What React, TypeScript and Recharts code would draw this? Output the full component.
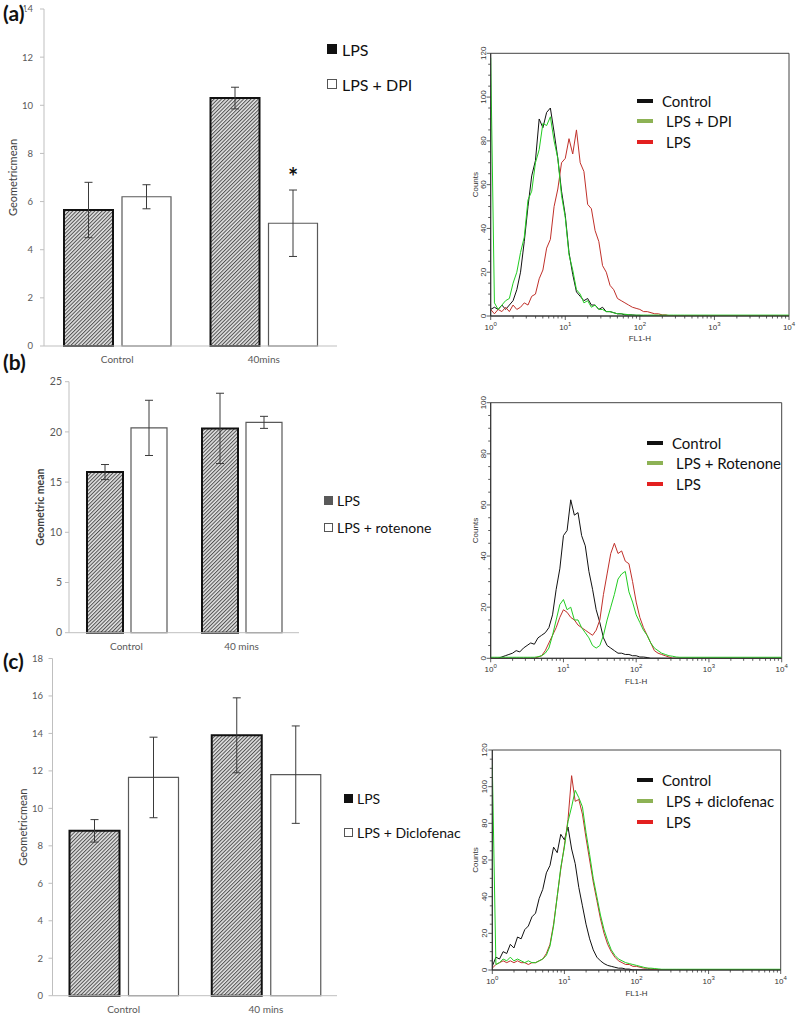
import React from 'react';
import { BarChart, Bar, XAxis, YAxis, ErrorBar, LabelList, LineChart, Line, ReferenceArea } from 'recharts';

const FONT = 'Lato, "Open Sans", sans-serif';
const HFONT = '"Liberation Sans", Arial, sans-serif';

// ---------- Bar chart data ----------
const catsA = ['Control', '40mins'];
const lpsA = [5.65, 10.3];
const lpsErrA = [1.15, 0.45];
const dpiA = [6.2, 5.1];
const dpiErrA = [0.5, 1.38];
const marksA = ['', '*'];
const yTicksA = [0, 2, 4, 6, 8, 10, 12, 14];

const catsB = ['Control', '40 mins'];
const lpsB = [16.0, 20.35];
const lpsErrB = [0.75, 3.5];
const rotB = [20.4, 20.95];
const rotErrB = [2.75, 0.6];
const yTicksB = [0, 5, 10, 15, 20, 25];

const catsC = ['Control', '40 mins'];
const lpsC = [8.8, 13.9];
const lpsErrC = [0.6, 2.0];
const dicC = [11.65, 11.8];
const dicErrC = [2.15, 2.6];
const yTicksC = [0, 2, 4, 6, 8, 10, 12, 14, 16, 18];

// ---------- Histogram data (log10 of FL1-H channel, counts) ----------
const histLogX = [0, 0.05, 0.1, 0.15, 0.2, 0.25, 0.3, 0.35, 0.4, 0.45, 0.5, 0.55, 0.6, 0.65, 0.7, 0.75, 0.8, 0.85, 0.9, 0.95, 1, 1.05, 1.1, 1.15, 1.2, 1.25, 1.3, 1.35, 1.4, 1.45, 1.5, 1.55, 1.6, 1.65, 1.7, 1.75, 1.8, 1.85, 1.9, 1.95, 2, 2.05, 2.1, 2.15, 2.2, 2.25, 2.3, 2.35, 2.4, 2.45, 2.5, 2.55, 2.6, 4];

const ctrlHistA = [3, 4, 3, 5, 3, 5, 7, 12, 20, 34, 50, 64, 71, 90, 86, 93, 95, 84, 72, 57, 46, 29, 19, 11, 9, 7, 8, 5, 5, 3, 4, 2, 2, 1.5, 1, 1, 0.5, 0.5, 0.5, 0.3, 0.3, 0, 0, 0, 0, 0, 0, 0, 0, 0, 0, 0, 0, 0];
const dpiHistA = [118, 6, 3, 5, 7, 8, 15, 20, 29, 36, 53, 57, 70, 76, 88, 87, 91, 80, 72, 55, 45, 28, 21, 12, 10, 6, 7, 4, 5, 3, 3, 2, 2, 1.5, 1, 1, 0.8, 0.6, 0.4, 0.4, 0.4, 0.4, 0.4, 0.4, 0.4, 0.4, 0.4, 0.4, 0.4, 0.4, 0.4, 0.4, 0.4, 0.4];
const lpsHistA = [3, 1, 3, 2, 4, 2, 5, 3, 4, 6, 5, 9, 10, 17, 21, 31, 35, 50, 58, 70, 72, 81, 74, 85, 70, 66, 51, 49, 39, 34, 23, 20, 14, 12, 8, 7, 6, 5, 4, 3.5, 3, 2, 2, 1.5, 1, 1, 0.5, 0.5, 0, 0, 0, 0, 0, 0];

const ctrlHistB = [0, 0, 0, 0.5, 1, 1.5, 2, 3, 2.5, 4, 5, 6, 5.5, 8, 9, 10, 12, 17, 27, 35, 48, 50, 62, 56, 57, 48, 44, 34, 27, 19, 14, 8, 5, 4, 3, 2, 2, 1.5, 1.5, 1, 1, 0.5, 0.5, 0.3, 0, 0, 0, 0, 0, 0, 0, 0, 0, 0];
const rotHistB = [0.4, 0.4, 0.4, 0.4, 0.4, 0.4, 0.4, 0.4, 0.4, 0.4, 0.4, 0.4, 0.4, 0.6, 1, 2, 4, 9, 15, 21, 23, 19, 20, 15, 15, 12, 10, 8, 5, 4, 5, 9, 15, 20, 25, 31, 33, 34, 26, 22, 17, 14, 11, 9, 6, 4, 3, 2, 1.5, 1, 0.8, 0.5, 0.4, 0.4];
const lpsHistB = [0, 0, 0, 0, 0, 0, 0, 0, 0, 0, 0, 0, 0, 0.5, 1, 3, 6, 9, 12, 16, 19, 18, 16, 15, 13, 12, 11, 10, 9, 11, 15, 25, 33, 41, 45, 41, 42, 38, 37, 30, 22, 16, 12, 9, 6, 3, 2, 1.5, 1, 0.5, 0, 0, 0, 0];

const ctrlHistC = [2, 7, 6, 10, 9, 14, 12, 18, 17, 22, 24, 29, 31, 39, 44, 53, 57, 67, 64, 74, 71, 78, 66, 58, 45, 35, 25, 17, 11, 7, 5, 3.5, 2.5, 2, 1.5, 1, 1, 0.5, 0.5, 0, 0, 0, 0, 0, 0, 0, 0, 0, 0, 0, 0, 0, 0, 0];
const dicHistC = [112, 3, 4, 6, 5, 7, 5, 6, 5, 4, 5, 4, 4, 5, 6, 8, 13, 24, 40, 56, 67, 81, 89, 98, 94, 89, 75, 63, 50, 40, 30, 22, 16, 11, 8, 6, 5, 4, 3.5, 3, 2.5, 2, 1.5, 1, 1, 0.8, 0.6, 0.4, 0.4, 0.4, 0.4, 0.4, 0.4, 0.4];
const lpsHistC = [1, 3, 4, 5, 4, 5, 4, 5, 4, 4, 3, 4, 4, 5, 6, 9, 14, 25, 40, 55, 68, 82, 106, 92, 93, 85, 72, 60, 48, 38, 28, 20, 14, 10, 7, 5, 4, 3, 3, 2, 2, 1.5, 1, 1, 0.5, 0.5, 0, 0, 0, 0, 0, 0, 0, 0];

const logTicks = [1, 2, 3, 4, 5, 6, 7, 8, 9, 10, 20, 30, 40, 50, 60, 70, 80, 90, 100, 200, 300, 400, 500, 600, 700, 800, 900, 1000, 2000, 3000, 4000, 5000, 6000, 7000, 8000, 9000, 10000];
const countTicks120 = [0, 5, 10, 15, 20, 25, 30, 35, 40, 45, 50, 55, 60, 65, 70, 75, 80, 85, 90, 95, 100, 105, 110, 115, 120];
const countTicks100 = [0, 5, 10, 15, 20, 25, 30, 35, 40, 45, 50, 55, 60, 65, 70, 75, 80, 85, 90, 95, 100];

const histColors = { control: '#111111', treated: '#22cc22', lps: '#c0302a' };
const histSwatch = { control: '#111111', treated: '#8db255', lps: '#e32020' };

// ---------- helpers ----------
const StarLabel = (props: any) => {
  const { x, y, width, value } = props;
  if (!value) return null;
  return (
    <text x={Number(x) + Number(width) / 2} y={Number(y) - 37} textAnchor="middle" fontSize={24} fontWeight={700} fontFamily={FONT} fill="#111">
      {value}
    </text>
  );
};

function BarPanel(p: any) {
  const data = p.cats.map((c: string, i: number) => ({
    cat: c,
    lps: p.lps[i],
    lpsErr: p.lpsErr[i],
    trt: p.trt[i],
    trtErr: p.trtErr[i],
    mark: p.marks ? p.marks[i] : '',
  }));
  const xAxisH = p.top + p.height - p.plotBottom;
  return (
    <div style={{ position: 'absolute', left: p.left, top: p.top }}>
      <BarChart
        width={p.width}
        height={p.height}
        data={data}
        margin={{ top: p.plotTop - p.top, right: p.left + p.width - p.plotRight, bottom: 0, left: 0 }}
        barSize={p.barSize}
        barGap={p.barGap}
      >
        <defs>
          <pattern id={p.pid} width="2.6" height="2.6" patternUnits="userSpaceOnUse" patternTransform="rotate(45)">
            <rect width="2.6" height="2.6" fill="#e2e2e2" />
            <line x1="0.5" y1="0" x2="0.5" y2="2.6" stroke="#505050" strokeWidth="1" />
          </pattern>
        </defs>
        <XAxis
          dataKey="cat"
          height={xAxisH}
          tickLine={false}
          tickSize={0}
          tickMargin={10}
          axisLine={{ stroke: '#bfbfbf' }}
          tick={{ fontSize: 10, fill: '#595959', fontFamily: FONT }}
        />
        <YAxis
          width={p.plotLeft - p.left}
          domain={p.yDomain}
          ticks={p.yTicks}
          interval={0}
          tickSize={4}
          tickMargin={p.tickMargin}
          tickLine={{ stroke: '#bfbfbf' }}
          axisLine={{ stroke: '#bfbfbf' }}
          tick={{ fontSize: p.tickFont, fill: '#595959', fontFamily: FONT }}
          label={{
            value: p.yLabel,
            angle: -90,
            position: 'insideLeft',
            offset: p.yLabelX,
            style: { textAnchor: 'middle', fontSize: p.yLabelFont, fill: '#404040', fontFamily: FONT, fontWeight: p.yLabelBold ? 700 : 400 },
          }}
        />
        <Bar dataKey="lps" name="LPS" fill={`url(#${p.pid})`} stroke="#111" strokeWidth={2} isAnimationActive={false}>
          <ErrorBar dataKey="lpsErr" width={4} stroke="#3a3a3a" strokeWidth={1} direction="y" />
        </Bar>
        <Bar dataKey="trt" name={p.trtName} fill="#ffffff" stroke="#595959" strokeWidth={1.2} isAnimationActive={false}>
          <ErrorBar dataKey="trtErr" width={4} stroke="#3a3a3a" strokeWidth={1} direction="y" />
          {p.marks ? <LabelList dataKey="mark" content={StarLabel} /> : null}
        </Bar>
      </BarChart>
    </div>
  );
}

function BarLegend(p: any) {
  return (
    <>
      {p.items.map((it: any, i: number) => (
        <div
          key={i}
          style={{
            position: 'absolute',
            left: p.x,
            top: p.ys[i] - 10,
            height: 20,
            display: 'flex',
            alignItems: 'center',
            fontFamily: FONT,
            fontSize: p.fontSize,
            color: '#111',
            whiteSpace: 'nowrap',
          }}
        >
          <div
            style={{
              width: p.sw,
              height: p.sw,
              boxSizing: 'border-box',
              background: it.fill,
              border: `1px solid ${it.border}`,
              marginRight: p.gap,
            }}
          />
          <span>{it.label}</span>
        </div>
      ))}
    </>
  );
}

const LogTick = (props: any) => {
  const { x, y, payload } = props;
  const v = payload.value;
  const e = Math.log10(v);
  const major = Math.abs(e - Math.round(e)) < 1e-6;
  return (
    <g>
      <line x1={x} x2={x} y1={y} y2={y + (major ? 4 : 2.5)} stroke="#333" strokeWidth={0.8} />
      {major ? (
        <text x={x} y={y + 14} textAnchor="middle" fontSize={8} fill="#333" fontFamily={HFONT}>
          10<tspan dy={-4} fontSize={6}>{Math.round(e)}</tspan>
        </text>
      ) : null}
    </g>
  );
};

const CountTick = (props: any) => {
  const { x, y, payload } = props;
  const v = payload.value;
  const major = v % 20 === 0;
  return (
    <g>
      <line x1={x} x2={x - (major ? 4 : 2.5)} y1={y} y2={y} stroke="#333" strokeWidth={0.8} />
      {major ? (
        <text transform={`translate(${x - 5},${y}) rotate(-90)`} textAnchor="middle" fontSize={8} fill="#333" fontFamily={HFONT}>
          {v}
        </text>
      ) : null}
    </g>
  );
};

function HistPanel(p: any) {
  const data = histLogX.map((lx, i) => ({
    x: Math.pow(10, lx),
    control: p.control[i],
    treated: p.treated[i],
    lps: p.lps[i],
  }));
  const xAxisH = p.top + p.height - p.plotBottom;
  return (
    <div style={{ position: 'absolute', left: p.left, top: p.top }}>
      <LineChart
        width={p.width}
        height={p.height}
        data={data}
        margin={{ top: p.plotTop - p.top, right: p.left + p.width - p.plotRight, bottom: 0, left: 0 }}
      >
        <XAxis
          dataKey="x"
          type="number"
          scale="log"
          domain={[1, 10000]}
          allowDataOverflow
          ticks={logTicks}
          interval={0}
          tick={<LogTick />}
          tickLine={false}
          tickSize={0}
          tickMargin={0}
          height={xAxisH}
          axisLine={{ stroke: '#333' }}
          label={{ value: 'FL1-H', position: 'insideBottom', offset: 1, style: { fontSize: 8, fill: '#333', fontFamily: HFONT } }}
        />
        <YAxis
          type="number"
          domain={[0, p.yMax]}
          allowDataOverflow
          ticks={p.yTicks}
          interval={0}
          tick={<CountTick />}
          tickLine={false}
          tickSize={0}
          tickMargin={0}
          width={p.plotLeft - p.left}
          axisLine={{ stroke: '#333' }}
          label={{ value: 'Counts', angle: -90, position: 'insideLeft', offset: 5, style: { textAnchor: 'middle', fontSize: 8, fill: '#333', fontFamily: HFONT } }}
        />
        <ReferenceArea x1={1} x2={10000} y1={0} y2={p.yMax} fill="none" stroke="#444" strokeWidth={1} ifOverflow="visible" />
        <Line dataKey="control" name="Control" stroke={histColors.control} strokeWidth={1} dot={false} isAnimationActive={false} />
        <Line dataKey="lps" name="LPS" stroke={histColors.lps} strokeWidth={1} dot={false} isAnimationActive={false} />
        <Line dataKey="treated" name={p.treatedName} stroke={histColors.treated} strokeWidth={1} dot={false} isAnimationActive={false} />
      </LineChart>
    </div>
  );
}

function HistLegend(p: any) {
  const items = [
    { label: 'Control', color: histSwatch.control, tx: p.textX },
    { label: p.treatedName, color: histSwatch.treated, tx: p.textX + 4 },
    { label: 'LPS', color: histSwatch.lps, tx: p.textX + 4 },
  ];
  return (
    <>
      {items.map((it, i) => (
        <React.Fragment key={i}>
          <div
            style={{
              position: 'absolute',
              left: p.swX,
              top: p.ys[i] - 2,
              width: 16,
              height: 4,
              background: it.color,
            }}
          />
          <div
            style={{
              position: 'absolute',
              left: it.tx,
              top: p.ys[i] - 10,
              height: 20,
              lineHeight: '20px',
              fontFamily: FONT,
              fontSize: 15,
              color: '#111',
              whiteSpace: 'nowrap',
            }}
          >
            {it.label}
          </div>
        </React.Fragment>
      ))}
    </>
  );
}

export default function App() {
  return (
    <div style={{ position: 'absolute', left: 0, top: 0, width: 797, height: 1018, background: '#fff', overflow: 'hidden', fontFamily: FONT }}>
      <BarPanel
        pid="hatchA"
        left={0}
        top={0}
        width={470}
        height={372}
        plotLeft={44}
        plotRight={337}
        plotTop={9}
        plotBottom={346}
        cats={catsA}
        lps={lpsA}
        lpsErr={lpsErrA}
        trt={dpiA}
        trtErr={dpiErrA}
        trtName="LPS + DPI"
        marks={marksA}
        yDomain={[0, 14]}
        yTicks={yTicksA}
        barSize={49}
        barGap={9}
        tickMargin={7}
        tickFont={9.5}
        yLabel="Geometricmean"
        yLabelX={13}
        yLabelFont={11}
        yLabelBold={false}
      />
      <BarLegend
        x={327}
        ys={[49, 84]}
        sw={10}
        gap={5}
        fontSize={16}
        items={[
          { label: 'LPS', fill: '#111', border: '#111' },
          { label: 'LPS + DPI', fill: '#fff', border: '#555' },
        ]}
      />

      <BarPanel
        pid="hatchB"
        left={0}
        top={372}
        width={470}
        height={288}
        plotLeft={69}
        plotRight={299}
        plotTop={381.7}
        plotBottom={632.7}
        cats={catsB}
        lps={lpsB}
        lpsErr={lpsErrB}
        trt={rotB}
        trtErr={rotErrB}
        trtName="LPS + rotenone"
        yDomain={[0, 25]}
        yTicks={yTicksB}
        barSize={36}
        barGap={8}
        tickMargin={3}
        tickFont={10.5}
        yLabel="Geometric mean"
        yLabelX={40}
        yLabelFont={10.5}
        yLabelBold={true}
      />
      <BarLegend
        x={324}
        ys={[500, 527]}
        sw={9}
        gap={4}
        fontSize={14}
        items={[
          { label: 'LPS', fill: '#595959', border: '#595959' },
          { label: 'LPS + rotenone', fill: '#fff', border: '#555' },
        ]}
      />

      <BarPanel
        pid="hatchC"
        left={0}
        top={645}
        width={470}
        height={373}
        plotLeft={52.5}
        plotRight={337}
        plotTop={658.5}
        plotBottom={995.7}
        cats={catsC}
        lps={lpsC}
        lpsErr={lpsErrC}
        trt={dicC}
        trtErr={dicErrC}
        trtName="LPS + Diclofenac"
        yDomain={[0, 18]}
        yTicks={yTicksC}
        barSize={50}
        barGap={9}
        tickMargin={5.5}
        tickFont={9.5}
        yLabel="Geometricmean"
        yLabelX={23}
        yLabelFont={11}
        yLabelBold={false}
      />
      <BarLegend
        x={344}
        ys={[798, 832]}
        sw={9}
        gap={4}
        fontSize={14}
        items={[
          { label: 'LPS', fill: '#111', border: '#111' },
          { label: 'LPS + Diclofenac', fill: '#fff', border: '#555' },
        ]}
      />

      <HistPanel
        left={470}
        top={40}
        width={327}
        height={302}
        plotLeft={490.7}
        plotRight={789}
        plotTop={53.3}
        plotBottom={316}
        yMax={120}
        yTicks={countTicks120}
        control={ctrlHistA}
        treated={dpiHistA}
        lps={lpsHistA}
        treatedName="LPS + DPI"
      />
      <HistLegend swX={637} textX={662} ys={[101, 120.7, 141.7]} treatedName="LPS + DPI" />

      <HistPanel
        left={470}
        top={390}
        width={327}
        height={295}
        plotLeft={490.7}
        plotRight={781.7}
        plotTop={402.7}
        plotBottom={658.3}
        yMax={100}
        yTicks={countTicks100}
        control={ctrlHistB}
        treated={rotHistB}
        lps={lpsHistB}
        treatedName="LPS + Rotenone"
      />
      <HistLegend swX={647} textX={672} ys={[443.3, 463.3, 484]} treatedName="LPS + Rotenone" />

      <HistPanel
        left={470}
        top={737}
        width={327}
        height={260}
        plotLeft={492.3}
        plotRight={780.7}
        plotTop={750}
        plotBottom={970}
        yMax={120}
        yTicks={countTicks120}
        control={ctrlHistC}
        treated={dicHistC}
        lps={lpsHistC}
        treatedName="LPS + diclofenac"
      />
      <HistLegend swX={637} textX={662} ys={[780, 800.7, 821.7]} treatedName="LPS + diclofenac" />

      <svg width={797} height={1018} style={{ position: 'absolute', left: 0, top: 0, pointerEvents: 'none' }}>
        <g fontFamily={FONT} fontWeight={700} fontSize={21} fill="#111" stroke="#fff" strokeWidth={3} style={{ paintOrder: 'stroke' }}>
          <text x={3} y={21}>(a)</text>
          <text x={3} y={370}>(b)</text>
          <text x={3} y={669}>(c)</text>
        </g>
      </svg>
    </div>
  );
}
